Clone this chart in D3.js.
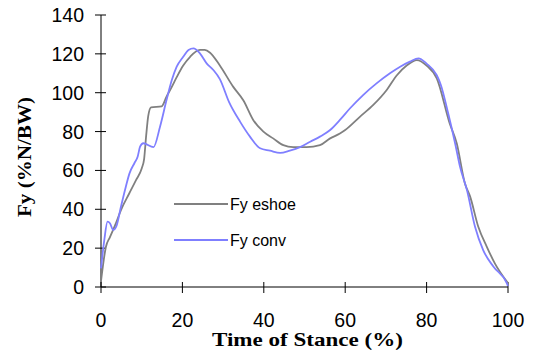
<!DOCTYPE html>
<html>
<head>
<meta charset="utf-8">
<script src="https://cdn.jsdelivr.net/npm/d3@7"></script>
<style>
  html, body { margin: 0; padding: 0; background: #fff; }
  svg { display: block; }
</style>
</head>
<body>
<svg id="chart" width="537" height="357"></svg>
<script>
// ---- data ----
const eshoeTime = [0, 1.2, 2.2, 3.7, 4.9, 6.9, 8.6, 10.0, 10.6, 11.1, 11.6, 12.3, 14.9, 16.1, 17.4, 18.6, 20.2, 21.9, 24.3, 25.5, 26.8, 29.2, 32.5, 35, 37.4, 39.9, 42.3, 44.8, 47.2, 50.5, 53.8, 56.3, 58.7, 60, 63.6, 66.9, 70.2, 72.7, 75.1, 77.6, 80, 82.5, 85.7, 87.4, 89.4, 90.7, 92.7, 94.8, 96.8, 100];
const eshoeFy   = [3, 20.6, 25.7, 33, 39.6, 48, 55, 61, 66, 78, 88, 92.5, 93, 98, 103, 108, 114, 118.5, 122, 122, 120.6, 114, 103, 96, 86, 80, 76.5, 73, 72, 72, 73, 76.5, 79, 80.8, 87.6, 93.7, 101.4, 109, 114, 116.8, 114, 107.4, 84, 74, 53.4, 46.5, 31, 20.7, 12, 2];

const convTime = [0, 0.8, 1.6, 2.2, 3, 3.8, 4.9, 6.1, 7, 8.2, 9, 9.6, 10.4, 12.9, 14.5, 16.1, 17.4, 18.6, 20.2, 21.5, 22.7, 24.3, 26, 27.6, 29.2, 31.5, 34.2, 36.6, 39.1, 41.5, 44, 46.4, 48.9, 51.4, 53.8, 56.3, 58.7, 61.2, 64.4, 67.7, 71, 73.5, 75.9, 78, 80, 82.5, 83.5, 85.3, 87, 88.2, 89.9, 91.9, 93.9, 96.4, 99.7, 100];
const convFy   = [9.6, 24, 33.6, 32.8, 29.3, 31.4, 41.3, 51.6, 58.5, 63.7, 67, 72.2, 74, 72, 82.5, 96.2, 106.5, 113.4, 118.5, 122, 122.8, 120.3, 115, 111.7, 107, 95, 85, 77.4, 71.4, 70.2, 69, 70.2, 72, 74.8, 77.4, 80.8, 86, 92, 98.8, 104.8, 110, 113.4, 116, 117.7, 115, 109, 104, 89.4, 74, 62, 50, 31, 19, 10.5, 2, 0.5];

const seriesNames = ["Fy eshoe", "Fy conv"];
const xTickValues = [0, 20, 40, 60, 80, 100];
const yTickValues = [0, 20, 40, 60, 80, 100, 120, 140];
const xTitle = "Time of Stance (%)";
const yTitle = "Fy (%N/BW)";

// ---- drawing ----
const colors = ["#808080", "#7f7fff"];
const svg = d3.select("#chart");
const x = d3.scaleLinear().domain([0, 100]).range([101, 508]);
const y = d3.scaleLinear().domain([0, 140]).range([287, 15]);

const series = [
  eshoeTime.map((t, i) => [t, eshoeFy[i]]),
  convTime.map((t, i) => [t, convFy[i]])
];

const sans = "Arial, 'Liberation Sans', sans-serif";
const serif = "'Times New Roman', 'Liberation Serif', serif";

// x axis with cross ticks
const gx = svg.append("g").attr("transform", "translate(0,287)");
gx.append("line").attr("x1", x(0)).attr("x2", x(100)).attr("y1", 0).attr("y2", 0)
  .attr("stroke", "#000").attr("stroke-width", 1);
gx.selectAll("line.tk").data(xTickValues).enter().append("line")
  .attr("class", "tk").attr("x1", d => x(d)).attr("x2", d => x(d))
  .attr("y1", -5).attr("y2", 6).attr("stroke", "#000");
gx.selectAll("text").data(xTickValues).enter().append("text")
  .attr("x", d => x(d)).attr("y", 40)
  .attr("text-anchor", "middle")
  .attr("font-family", sans)
  .attr("font-size", 19.5).attr("fill", "#000")
  .text(d => d);

// y axis with cross ticks
const gy = svg.append("g");
gy.append("line").attr("x1", x(0)).attr("x2", x(0)).attr("y1", y(0)).attr("y2", y(140))
  .attr("stroke", "#000").attr("stroke-width", 1);
gy.selectAll("line.tk").data(yTickValues).enter().append("line")
  .attr("class", "tk").attr("x1", x(0) - 6).attr("x2", x(0) + 5)
  .attr("y1", d => y(d)).attr("y2", d => y(d)).attr("stroke", "#000");
gy.selectAll("text").data(yTickValues).enter().append("text")
  .attr("x", 84).attr("y", d => y(d)).attr("dy", "0.36em")
  .attr("text-anchor", "end")
  .attr("font-family", sans)
  .attr("font-size", 19.5).attr("fill", "#000")
  .text(d => d);

// lines
const line = d3.line().x(d => x(d[0])).y(d => y(d[1])).curve(d3.curveMonotoneX);
series.forEach((s, i) => {
  svg.append("path").datum(s).attr("d", line)
    .attr("fill", "none").attr("stroke", colors[i]).attr("stroke-width", 1.8)
    .attr("stroke-linejoin", "round");
});

// legend
const legY = [204, 240];
seriesNames.forEach((name, i) => {
  svg.append("line").attr("x1", 174).attr("x2", 228).attr("y1", legY[i]).attr("y2", legY[i])
    .attr("stroke", colors[i]).attr("stroke-width", 1.8);
  svg.append("text").attr("x", 230).attr("y", legY[i]).attr("dy", "0.36em")
    .attr("font-family", sans)
    .attr("font-size", 16).attr("fill", "#000").text(name);
});

// titles
svg.append("text").attr("x", 212).attr("y", 346)
  .attr("textLength", 191).attr("lengthAdjust", "spacingAndGlyphs")
  .attr("font-family", serif)
  .attr("font-weight", "bold").attr("font-size", 19).attr("fill", "#000")
  .text(xTitle);
svg.append("text").attr("transform", "translate(31,217) rotate(-90)")
  .attr("textLength", 120).attr("lengthAdjust", "spacingAndGlyphs")
  .attr("font-family", serif)
  .attr("font-weight", "bold").attr("font-size", 19).attr("fill", "#000")
  .text(yTitle);
</script>
</body>
</html>
